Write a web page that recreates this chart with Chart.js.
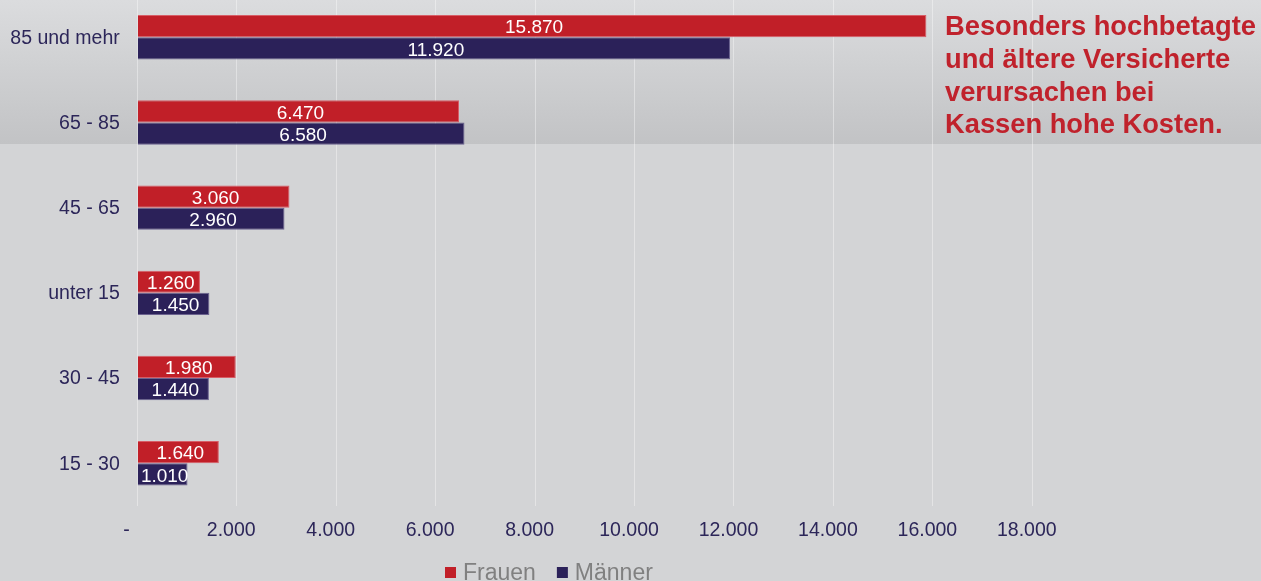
<!DOCTYPE html>
<html><head><meta charset="utf-8">
<script src="https://cdn.jsdelivr.net/npm/chart.js@4.4.0/dist/chart.umd.min.js"></script>
<style>
html,body{margin:0;padding:0;width:1261px;height:581px;overflow:hidden;}
body{background:linear-gradient(to bottom,#dbdcde 0px,#c2c3c5 144px,#d3d4d6 144px,#d3d4d6 581px);}
#wrap{position:absolute;left:0;top:-6px;width:1261px;height:587px;}
</style></head><body>
<div id="wrap"><canvas id="c" width="1261" height="587"></canvas></div>
<script>
// ---- data ----
const categories = ['85 und mehr', '65 - 85', '45 - 65', 'unter 15', '30 - 45', '15 - 30'];
const frauen  = [15870, 6470, 3060, 1260, 1980, 1640];
const maenner = [11920, 6580, 2960, 1450, 1440, 1010];
const seriesNames = ['Frauen', 'Männer'];
const tickLabels = ['-  ', '2.000', '4.000', '6.000', '8.000', '10.000', '12.000', '14.000', '16.000', '18.000'];
const noteLines = ['Besonders hochbetagte', 'und ältere Versicherte', 'verursachen bei', 'Kassen hohe Kosten.'];

// ---- styling ----
const OFF = 6; // canvas is shifted up by this many px
const FONT = '"Liberation Sans", Arial, Helvetica, sans-serif';
const RED = '#c11f28', BLUE = '#2b2159', NAVY = '#2c2659';

function fmt(v) { return String(v).replace(/\B(?=(\d{3})+(?!\d))/g, '.'); }

const valueLabels = {
  id: 'valueLabels',
  afterDatasetsDraw(chart) {
    const ctx = chart.ctx;
    ctx.save();
    ctx.font = '19px ' + FONT;
    ctx.fillStyle = '#ffffff';
    ctx.textAlign = 'center';
    ctx.textBaseline = 'middle';
    chart.data.datasets.forEach((ds, di) => {
      chart.getDatasetMeta(di).data.forEach((bar, i) => {
        const cx = (bar.x + bar.base) / 2 + 2;
        ctx.fillText(fmt(ds.data[i]), cx, bar.y + 2);
      });
    });
    ctx.restore();
  }
};

const extras = {
  id: 'extras',
  afterDraw(chart) {
    const ctx = chart.ctx;
    ctx.save();
    // annotation text
    ctx.font = 'bold 27.3px ' + FONT;
    ctx.fillStyle = '#c0222c';
    ctx.textAlign = 'left';
    ctx.textBaseline = 'alphabetic';
    noteLines.forEach((t, i) => ctx.fillText(t, 945, 35 + i * 32.8 + OFF));
    // legend
    ctx.font = '23px ' + FONT;
    let x = 445;
    const colors = [RED, BLUE];
    seriesNames.forEach((name, i) => {
      ctx.fillStyle = colors[i];
      ctx.fillRect(x, 567 + OFF, 11, 11);
      x += 18;
      ctx.fillStyle = '#808080';
      ctx.fillText(name, x, 580 + OFF);
      x += ctx.measureText(name).width + 21;
    });
    ctx.restore();
  }
};

new Chart(document.getElementById('c'), {
  type: 'bar',
  data: {
    labels: categories,
    datasets: [
      { label: seriesNames[0], data: frauen, backgroundColor: RED, borderColor: 'rgba(215,80,90,0.9)', borderWidth: 1 },
      { label: seriesNames[1], data: maenner, backgroundColor: BLUE, borderColor: 'rgba(95,85,135,0.9)', borderWidth: 1 }
    ]
  },
  options: {
    indexAxis: 'y',
    responsive: false,
    animation: false,
    devicePixelRatio: 1,
    categoryPercentage: 0.521,
    barPercentage: 1,
    layout: { padding: { top: 0.7, right: 228.7, bottom: 0, left: 0 } },
    plugins: { legend: { display: false }, tooltip: { enabled: false } },
    scales: {
      y: {
        grid: { display: false, drawTicks: false },
        border: { display: false },
        ticks: { padding: 17.5, labelOffset: 1, color: NAVY, font: { size: 19.5, family: FONT } },
        afterFit(s) { s.width = 137.3; s.paddingTop = 0; s.paddingBottom = 0; }
      },
      x: {
        min: 0, max: 18000,
        grid: { color: 'rgba(255,255,255,0.38)', drawTicks: false, lineWidth: 1 },
        border: { display: false },
        ticks: {
          stepSize: 2000, padding: 13.5, labelOffset: -5.5, autoSkip: false, maxRotation: 0,
          color: NAVY, font: { size: 19.5, family: FONT },
          callback: (v, i) => tickLabels[i]
        },
        afterFit(s) { s.height = 75.2; }
      }
    }
  },
  plugins: [valueLabels, extras]
});
</script>
</body></html>
